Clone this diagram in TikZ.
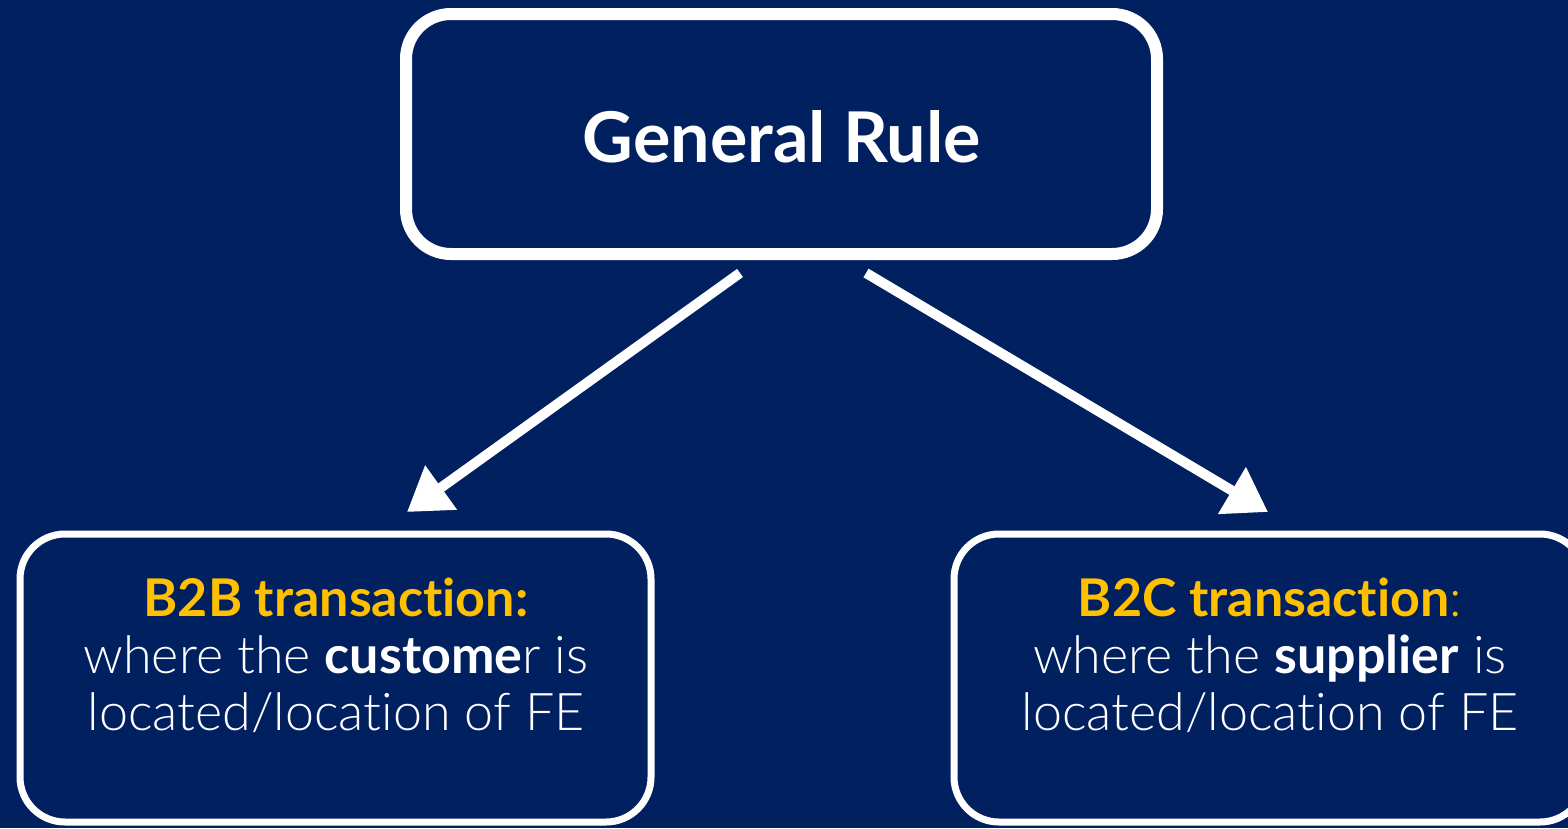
\documentclass[tikz,border=0pt]{standalone}
\usepackage{fontspec}
\setmainfont{Lato Light}[BoldFont=Lato Bold,Ligatures=NoCommon]
\usetikzlibrary{arrows.meta}
\definecolor{navy}{RGB}{0,32,96}
\definecolor{gold}{RGB}{255,192,0}
\begin{document}
\begin{tikzpicture}[x=1pt,y=-1pt,
  boxthick/.style={draw=white,line width=12pt,rounded corners=45pt},
  boxthin/.style={draw=white,line width=7pt,rounded corners=45pt},
  boxtext/.style={align=center,text=white,font=\fontsize{52}{57}\selectfont},
  arr/.style={draw=white,line width=10pt,-{Triangle[length=42pt,width=52pt]}}]
\fill[navy] (0,0) rectangle (1568,828);
\useasboundingbox (0,0) rectangle (1568,828);
\draw[boxthick] (406,14) rectangle (1157,254);
\node[text=white,font=\fontsize{70}{76}\selectfont\bfseries] (top) at (782,137) {General Rule};
\draw[boxthin] (20,534) rectangle (651,822);
\draw[boxthin] (954,534) rectangle (1585,822);
\node[boxtext] (b2b) at (336,655)
 {\textcolor{gold}{\bfseries B2B transaction:}\\where the \textbf{custome}r is\\located/location of FE};
\node[boxtext] (b2c) at (1270,655)
 {\textcolor{gold}{\bfseries B2C transaction}\textcolor{gold}{:}\\where the \textbf{supplier} is\\located/location of FE};
\coordinate (s1) at (740,273);
\coordinate (t1) at (407,512);
\coordinate (s2) at (866,273);
\coordinate (t2) at (1268,512);
\draw[arr] (s1) -- (t1);
\draw[arr] (s2) -- (t2);
\end{tikzpicture}
\end{document}
